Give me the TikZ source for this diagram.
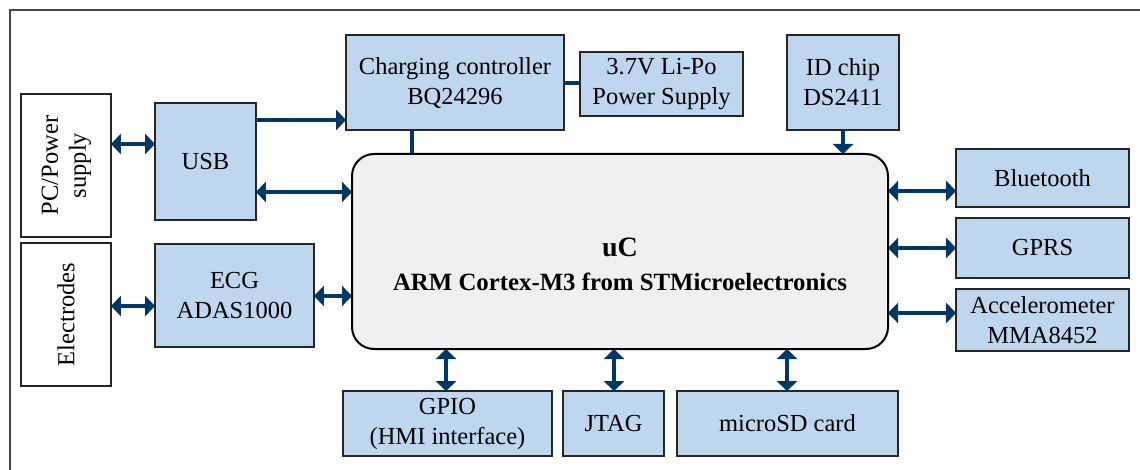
\documentclass[tikz,border=0pt]{standalone}
\usepackage{fontspec}
\usepackage{graphicx}
\setmainfont{Liberation Serif}
\usetikzlibrary{arrows.meta}
\definecolor{boxblue}{RGB}{190,215,238}
\definecolor{ucgray}{RGB}{240,240,240}
\definecolor{navy}{RGB}{0,55,100}
\definecolor{framegray}{RGB}{70,70,70}
\tikzset{
  blk/.style={draw=black!85, line width=1.8pt, fill=boxblue, inner sep=0pt, align=center,
    font=\fontsize{24.5}{30}\selectfont},
  wbox/.style={blk, fill=white},
  conn/.style={draw=navy, line width=4pt},
  biarr/.style={conn, {Triangle[length=10pt,width=20pt]}-{Triangle[length=10pt,width=20pt]}, shorten <=-1pt, shorten >=-1pt},
  onearr/.style={conn, -{Triangle[length=10pt,width=20pt]}, shorten >=-1pt}
}
\begin{document}
\begin{tikzpicture}[x=1pt,y=-1pt]
\useasboundingbox (0,0) rectangle (1140,470);
\draw[framegray, line width=1.5pt] (10,490) -- (10,10) -- (1160,10);
% left side
\node[wbox, minimum width=90pt, minimum height=143pt] (pc) at (66,165.5)
  {\rotatebox{90}{\begin{tabular}{@{}c@{}}PC/Power\\[-2pt]supply\end{tabular}}};
\node[wbox, minimum width=90pt, minimum height=143pt] (elec) at (66,314.5)
  {\rotatebox{90}{Electrodes}};
\node[blk, minimum width=101pt, minimum height=117pt] (usb) at (205.5,161.5) {USB};
\node[blk, minimum width=159pt, minimum height=103pt] (ecg) at (234.5,295.5) {ECG\\ADAS1000};
% top
\node[blk, minimum width=218pt, minimum height=95pt] (chg) at (455,82.5) {Charging controller\\BQ24296};
\node[blk, minimum width=163pt, minimum height=64pt] (lipo) at (661.5,84) {3.7V Li-Po\\Power Supply};
\node[blk, minimum width=112pt, minimum height=95pt] (id) at (843,82.5) {ID chip\\DS2411};
% uC
\node[draw=black, line width=2pt, fill=ucgray, rounded corners=22pt, inner sep=0pt,
  minimum width=536pt, minimum height=195pt, align=center,
  font=\fontsize{24.8}{34}\bfseries\selectfont] (uc) at (620,251.5)
  {\rule{0pt}{45pt}{\fontsize{28}{34}\selectfont uC}\\
   ARM Cortex-M3 from STMicroelectronics};
% right
\node[blk, minimum width=173pt, minimum height=58pt] (bt) at (1042.5,178) {Bluetooth};
\node[blk, minimum width=173pt, minimum height=60pt] (gprs) at (1042.5,248) {GPRS};
\node[blk, minimum width=173pt, minimum height=62pt] (acc) at (1042.5,320) {Accelerometer\\MMA8452};
% bottom
\node[blk, minimum width=209pt, minimum height=65pt] (gpio) at (447.5,423.5) {GPIO\\(HMI interface)};
\node[blk, minimum width=101pt, minimum height=65pt] (jtag) at (613.5,423.5) {JTAG};
\node[blk, minimum width=221pt, minimum height=65pt] (sd) at (787.5,423.5) {microSD card};
% connectors
\draw[biarr] (pc.east |- 0,144) -- (usb.west |- 0,144);
\draw[onearr] (usb.east |- 0,120) -- (chg.west |- 0,120);
\draw[biarr] (usb.east |- 0,192) -- (uc.west |- 0,192);
\draw[conn] (chg.south -| 412,0) -- (uc.north -| 412,0);
\draw[conn] (chg.east |- 0,83) -- (lipo.west |- 0,83);
\draw[onearr] (id.south) -- (uc.north -| id.south);
\draw[biarr] (elec.east |- 0,306) -- (ecg.west |- 0,306);
\draw[biarr] (ecg.east |- 0,296) -- (uc.west |- 0,296);
\draw[biarr] (uc.east |- 0,191) -- (bt.west |- 0,191);
\draw[biarr] (uc.east |- 0,248) -- (gprs.west |- 0,248);
\draw[biarr] (uc.east |- 0,313) -- (acc.west |- 0,313);
\draw[biarr] (uc.south -| 446,0) -- (gpio.north -| 446,0);
\draw[biarr] (uc.south -| 614,0) -- (jtag.north -| 614,0);
\draw[biarr] (uc.south -| 787,0) -- (sd.north -| 787,0);
\end{tikzpicture}
\end{document}
